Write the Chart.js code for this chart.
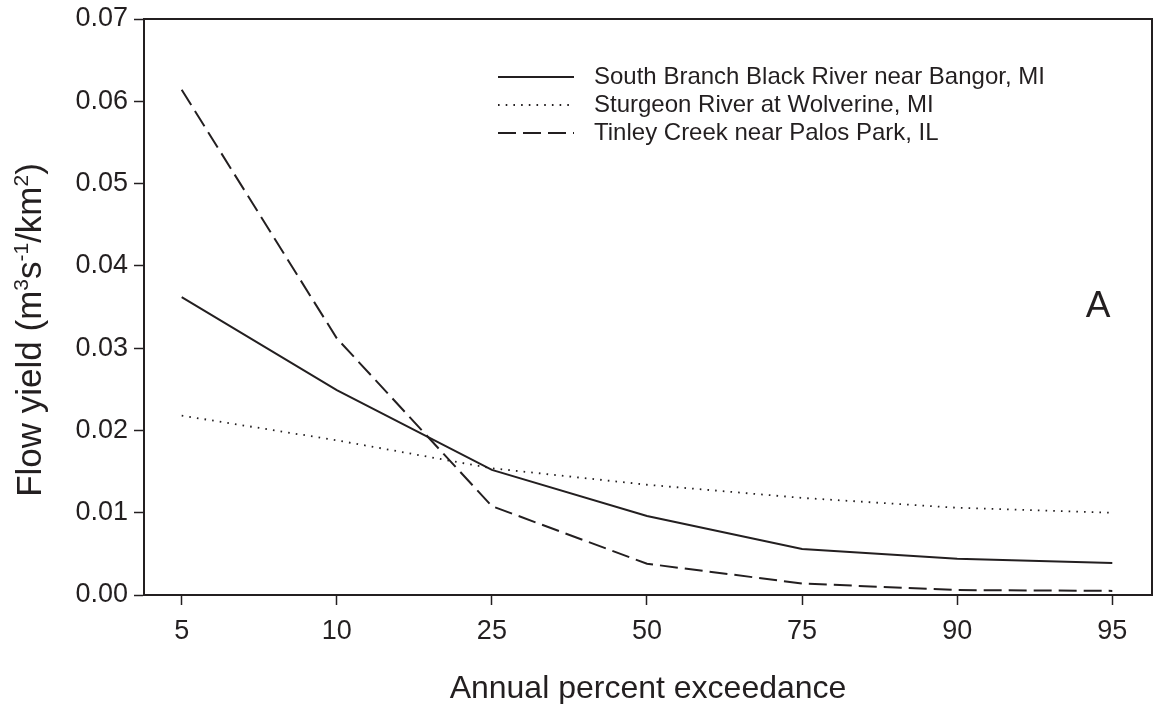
<!DOCTYPE html>
<html>
<head>
<meta charset="utf-8">
<script src="https://cdn.jsdelivr.net/npm/chart.js@4/dist/chart.umd.min.js"></script>
<style>
  html, body { margin: 0; padding: 0; background: #fff; }
  #wrap { width: 1153px; height: 704px; }
</style>
</head>
<body>
<div id="wrap"><canvas id="flowChart"></canvas></div>
<script>
// Annual percent exceedance categories (equally spaced on the axis)
const exceedance = ['5', '10', '25', '50', '75', '90', '95'];
const yTicks = [0, 0.01, 0.02, 0.03, 0.04, 0.05, 0.06, 0.07];

// Flow yield, m3 s-1 / km2
const southBranch = [0.0362, 0.0249, 0.0152, 0.0096, 0.0056, 0.0044, 0.0039];
const sturgeon = [0.0218, 0.0188, 0.0154, 0.0134, 0.0118, 0.0106, 0.0100];
const tinley = [0.0614, 0.0312, 0.0108, 0.0038, 0.0014, 0.0006, 0.0005];

const seriesNames = [
    'South Branch Black River near Bangor, MI',
    'Sturgeon River at Wolverine, MI',
    'Tinley Creek near Palos Park, IL'
];

const ink = '#231f20';
const font = 'Arial, "Liberation Sans", sans-serif';

function toPoints(values) {
    return values.map(function(v, i) { return { x: i, y: v }; });
}

const lineStyles = [
    { dash: [], width: 2 },
    { dash: [1.6, 6.1], width: 1.8 },
    { dash: [18, 7], width: 2 }
];

// frame, legend, panel letter and y title with superscripts
const decorations = {
    id: 'decorations',
    afterDraw: function(chart) {
        const ctx = chart.ctx;
        const a = chart.chartArea;
        ctx.save();

        // top and right sides of the frame
        ctx.strokeStyle = ink;
        ctx.lineWidth = 2;
        ctx.beginPath();
        ctx.moveTo(a.left, a.top);
        ctx.lineTo(a.right, a.top);
        ctx.lineTo(a.right, a.bottom);
        ctx.stroke();

        // legend
        ctx.fillStyle = ink;
        ctx.font = '24px ' + font;
        ctx.textBaseline = 'middle';
        seriesNames.forEach(function(name, i) {
            const y = a.top + 58 + i * 28;
            const st = lineStyles[i];
            ctx.setLineDash(st.dash);
            ctx.lineWidth = st.width;
            ctx.beginPath();
            ctx.moveTo(a.left + 354, y);
            ctx.lineTo(a.left + 430, y);
            ctx.stroke();
            ctx.setLineDash([]);
            ctx.fillText(name, a.left + 450, y);
        });

        // panel letter
        ctx.font = '37px ' + font;
        ctx.textAlign = 'center';
        ctx.textBaseline = 'alphabetic';
        ctx.fillText('A', a.right - 54, a.top + 298);

        // y axis title, drawn rotated with real superscripts
        const parts = [
            ['Flow yield (m', false], ['3', true], ['s', false], ['-1', true],
            ['/km', false], ['2', true], [')', false]
        ];
        const big = '35px ' + font;
        const small = '21px ' + font;
        let total = 0;
        parts.forEach(function(p) {
            ctx.font = p[1] ? small : big;
            total += ctx.measureText(p[0]).width;
        });
        ctx.translate(41, (a.top + a.bottom) / 2 + 23);
        ctx.rotate(-Math.PI / 2);
        ctx.textAlign = 'left';
        let x = -total / 2;
        parts.forEach(function(p) {
            ctx.font = p[1] ? small : big;
            ctx.fillText(p[0], x, p[1] ? -13 : 0);
            x += ctx.measureText(p[0]).width;
        });
        ctx.restore();
    }
};

new Chart(document.getElementById('flowChart').getContext('2d'), {
    type: 'line',
    data: {
        datasets: [
            { label: seriesNames[0], data: toPoints(southBranch) },
            { label: seriesNames[1], data: toPoints(sturgeon) },
            { label: seriesNames[2], data: toPoints(tinley) }
        ].map(function(ds, i) {
            ds.borderColor = ink;
            ds.borderWidth = lineStyles[i].width;
            ds.borderDash = lineStyles[i].dash;
            ds.pointRadius = 0;
            ds.fill = false;
            ds.tension = 0;
            return ds;
        })
    },
    options: {
        responsive: true,
        maintainAspectRatio: false,
        animation: false,
        layout: { padding: { top: 19, right: 1, left: 0, bottom: 0 } },
        plugins: {
            legend: { display: false },
            tooltip: { enabled: false }
        },
        scales: {
            x: {
                type: 'linear',
                min: -0.243,
                max: 6.256,
                border: { color: ink, width: 2 },
                grid: { drawOnChartArea: false, color: ink, tickLength: 10, tickWidth: 1.5 },
                ticks: {
                    stepSize: 1,
                    includeBounds: false,
                    color: ink,
                    font: { family: font, size: 27 },
                    padding: 10,
                    maxRotation: 0,
                    callback: function(value) {
                        return Number.isInteger(value) ? exceedance[value] : '';
                    }
                },
                title: {
                    display: true,
                    text: 'Annual percent exceedance',
                    color: ink,
                    font: { family: font, size: 32 },
                    padding: { top: 0, bottom: -4 }
                },
                afterFit: function(scale) {
                    scale.height = 109;
                    scale.paddingLeft = 0;
                    scale.paddingRight = 0;
                }
            },
            y: {
                min: 0,
                max: 0.07,
                border: { color: ink, width: 2 },
                grid: { drawOnChartArea: false, color: ink, tickLength: 10, tickWidth: 1.5 },
                afterBuildTicks: function(scale) {
                    scale.ticks = yTicks.map(function(v) { return { value: v }; });
                },
                ticks: {
                    color: ink,
                    font: { family: font, size: 27 },
                    padding: 6,
                    callback: function(value) { return value.toFixed(2); }
                },
                afterFit: function(scale) {
                    scale.width = 144;
                    scale.paddingTop = 0;
                    scale.paddingBottom = 0;
                }
            }
        }
    },
    plugins: [decorations]
});
</script>
</body>
</html>
